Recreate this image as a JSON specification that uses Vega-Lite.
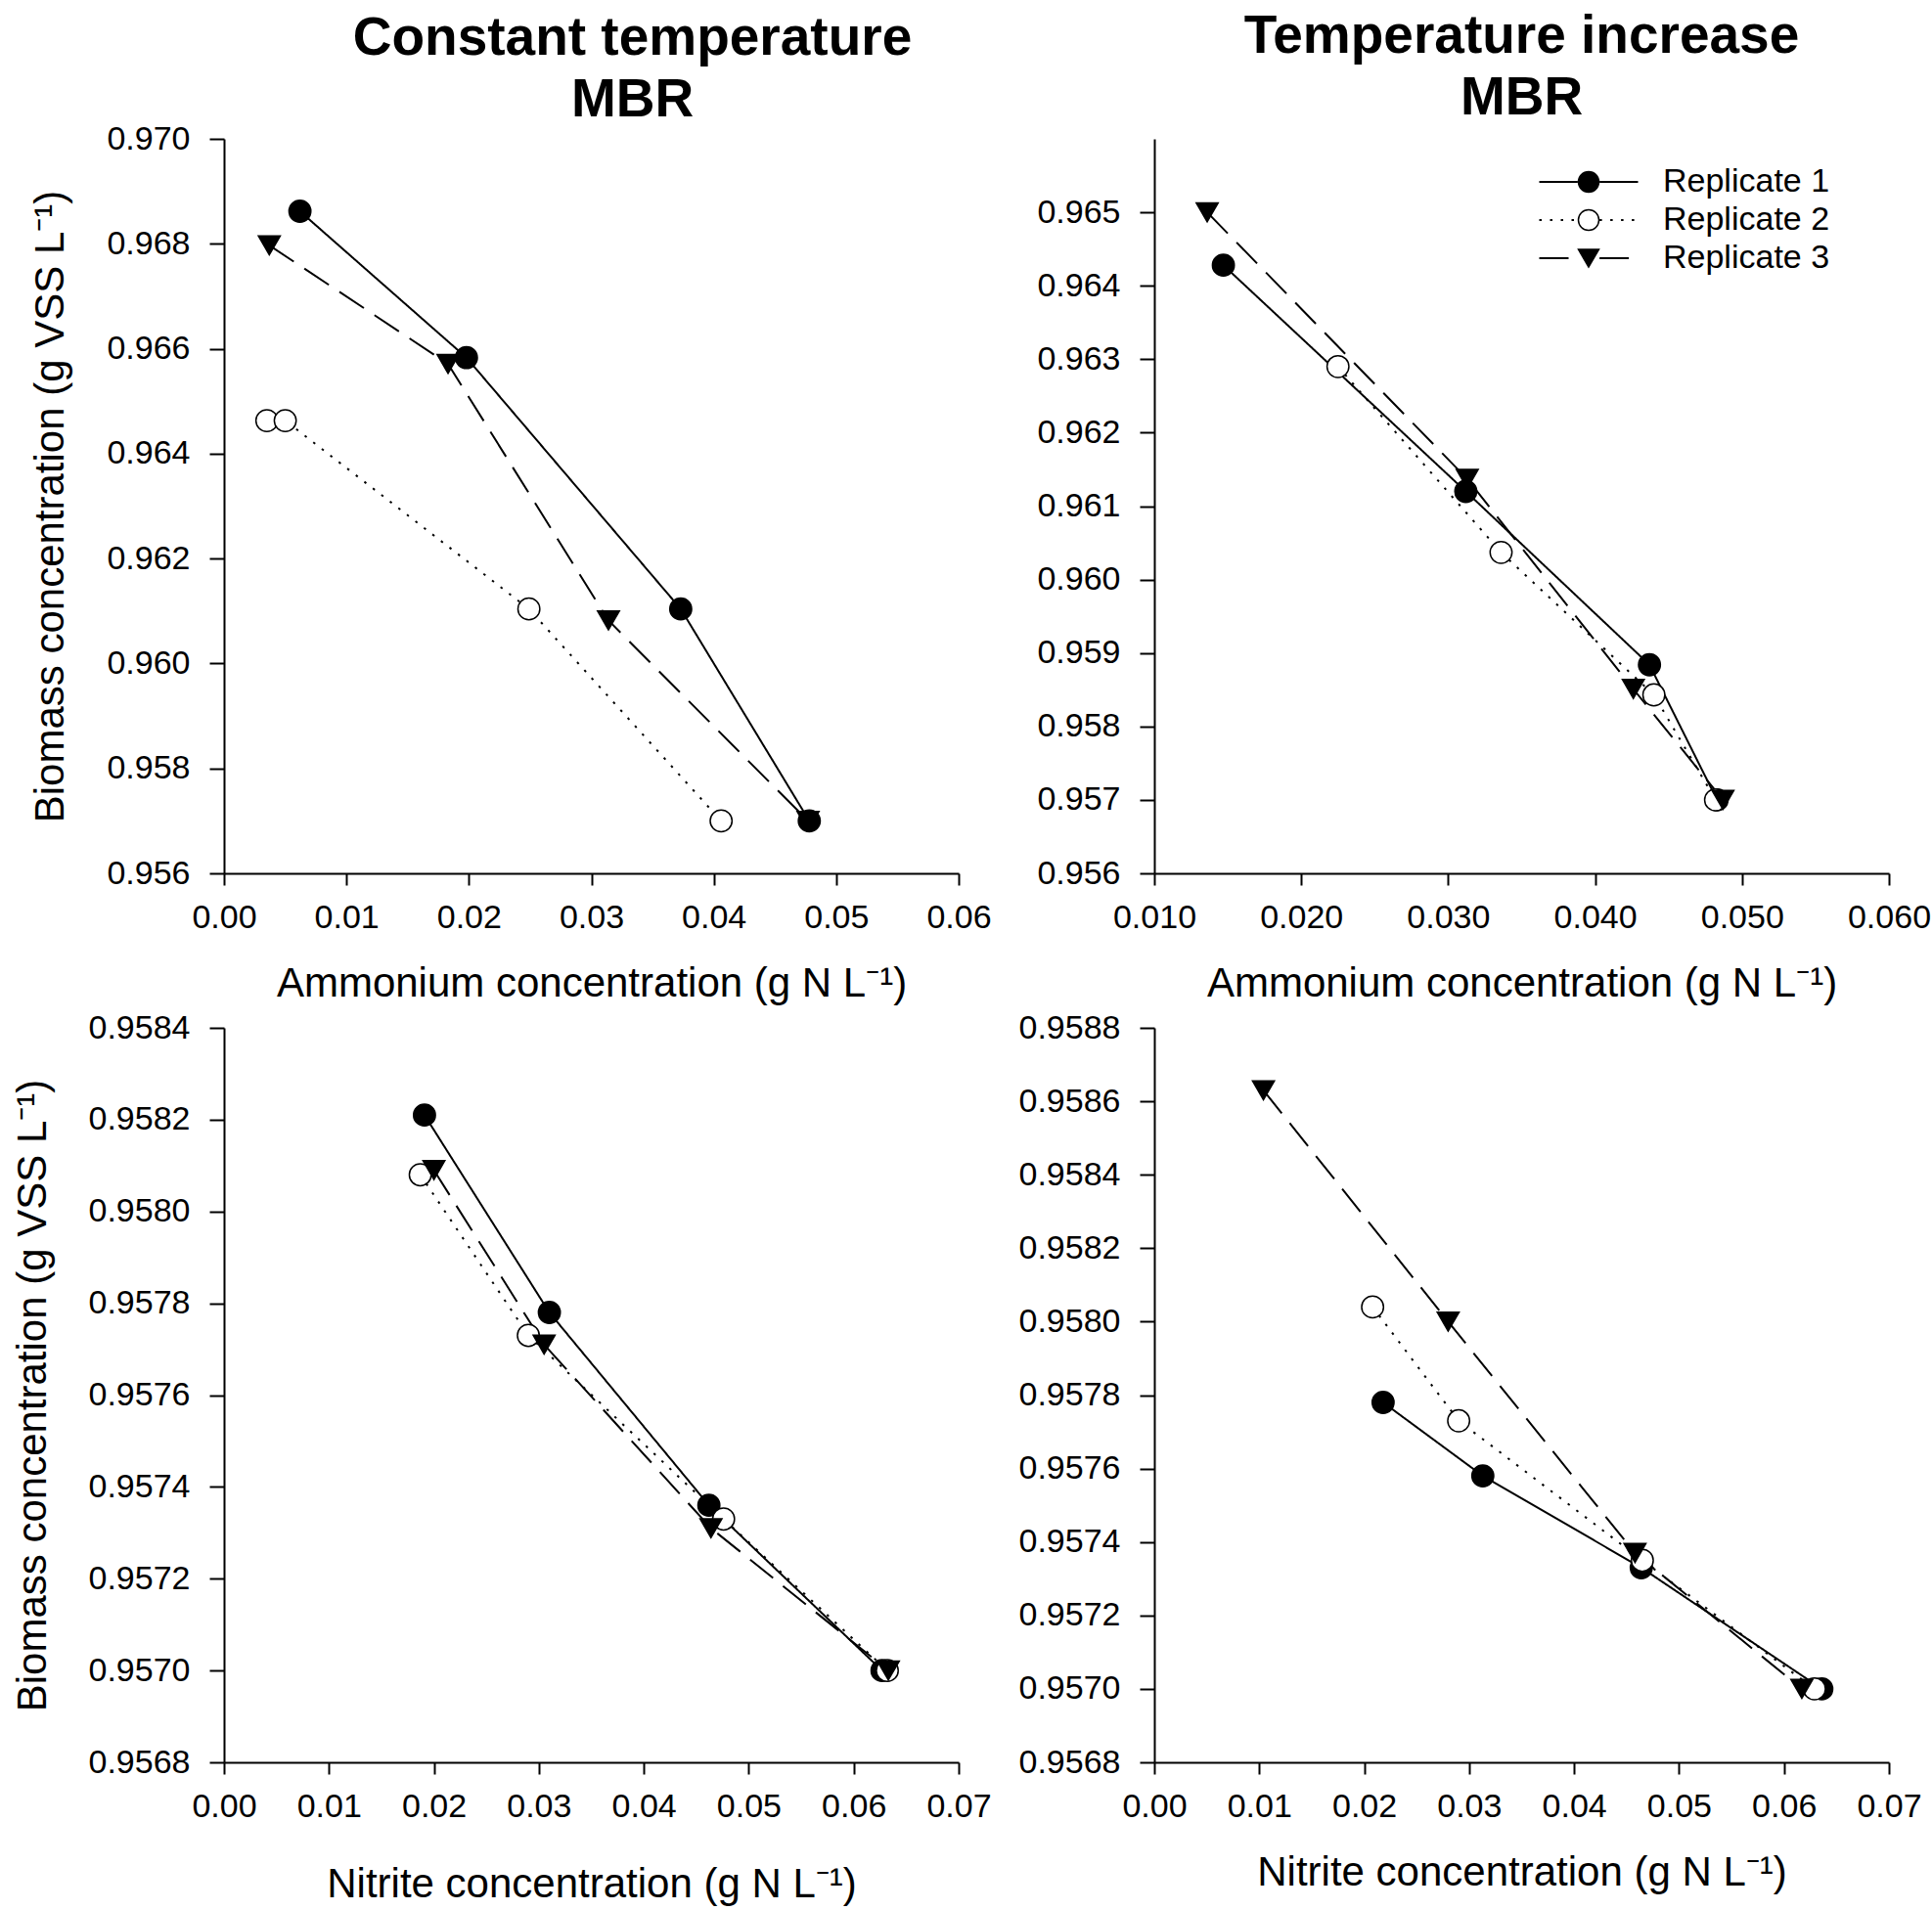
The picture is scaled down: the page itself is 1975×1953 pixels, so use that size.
{
  "$schema": "https://vega.github.io/schema/vega-lite/v6.json",
  "description": "Biomass concentration vs ammonium and nitrite concentration for three replicates, constant temperature and temperature increase MBR.",
  "background": "white",
  "padding": {"left": 12, "top": 10, "right": 5, "bottom": 5},
  "bounds": "flush",
  "columns": 2,
  "spacing": {"row": 158, "column": 200},
  "datasets": {
    "pts": [
      {"panel": "A", "rep": "Replicate 1", "x": 0.0062, "y": 0.96862},
      {"panel": "A", "rep": "Replicate 1", "x": 0.0198, "y": 0.96583},
      {"panel": "A", "rep": "Replicate 1", "x": 0.0373, "y": 0.96104},
      {"panel": "A", "rep": "Replicate 1", "x": 0.0478, "y": 0.957},
      {"panel": "A", "rep": "Replicate 2", "x": 0.0035, "y": 0.96463},
      {"panel": "A", "rep": "Replicate 2", "x": 0.005, "y": 0.96463},
      {"panel": "A", "rep": "Replicate 2", "x": 0.0249, "y": 0.96104},
      {"panel": "A", "rep": "Replicate 2", "x": 0.0406, "y": 0.957},
      {"panel": "A", "rep": "Replicate 3", "x": 0.0037, "y": 0.96797},
      {"panel": "A", "rep": "Replicate 3", "x": 0.0183, "y": 0.96571},
      {"panel": "A", "rep": "Replicate 3", "x": 0.0314, "y": 0.96082},
      {"panel": "A", "rep": "Replicate 3", "x": 0.0477, "y": 0.957},

      {"panel": "B", "rep": "Replicate 1", "x": 0.0147, "y": 0.96428},
      {"panel": "B", "rep": "Replicate 1", "x": 0.0312, "y": 0.9612},
      {"panel": "B", "rep": "Replicate 1", "x": 0.0437, "y": 0.95884},
      {"panel": "B", "rep": "Replicate 1", "x": 0.0483, "y": 0.957},
      {"panel": "B", "rep": "Replicate 2", "x": 0.0225, "y": 0.9629},
      {"panel": "B", "rep": "Replicate 2", "x": 0.0336, "y": 0.96037},
      {"panel": "B", "rep": "Replicate 2", "x": 0.044, "y": 0.95843},
      {"panel": "B", "rep": "Replicate 2", "x": 0.0482, "y": 0.957},
      {"panel": "B", "rep": "Replicate 3", "x": 0.0136, "y": 0.965},
      {"panel": "B", "rep": "Replicate 3", "x": 0.0313, "y": 0.96137},
      {"panel": "B", "rep": "Replicate 3", "x": 0.0426, "y": 0.95851},
      {"panel": "B", "rep": "Replicate 3", "x": 0.0487, "y": 0.957},

      {"panel": "C", "rep": "Replicate 1", "x": 0.0191, "y": 0.95821},
      {"panel": "C", "rep": "Replicate 1", "x": 0.031, "y": 0.95778},
      {"panel": "C", "rep": "Replicate 1", "x": 0.0462, "y": 0.95736},
      {"panel": "C", "rep": "Replicate 1", "x": 0.0627, "y": 0.957},
      {"panel": "C", "rep": "Replicate 2", "x": 0.0187, "y": 0.95808},
      {"panel": "C", "rep": "Replicate 2", "x": 0.029, "y": 0.95773},
      {"panel": "C", "rep": "Replicate 2", "x": 0.0476, "y": 0.95733},
      {"panel": "C", "rep": "Replicate 2", "x": 0.0632, "y": 0.957},
      {"panel": "C", "rep": "Replicate 3", "x": 0.02, "y": 0.95809},
      {"panel": "C", "rep": "Replicate 3", "x": 0.0305, "y": 0.95771},
      {"panel": "C", "rep": "Replicate 3", "x": 0.0464, "y": 0.95731},
      {"panel": "C", "rep": "Replicate 3", "x": 0.0633, "y": 0.957},

      {"panel": "D", "rep": "Replicate 1", "x": 0.0218, "y": 0.95778},
      {"panel": "D", "rep": "Replicate 1", "x": 0.0313, "y": 0.95758},
      {"panel": "D", "rep": "Replicate 1", "x": 0.0464, "y": 0.95733},
      {"panel": "D", "rep": "Replicate 1", "x": 0.0636, "y": 0.957},
      {"panel": "D", "rep": "Replicate 2", "x": 0.0208, "y": 0.95804},
      {"panel": "D", "rep": "Replicate 2", "x": 0.029, "y": 0.95773},
      {"panel": "D", "rep": "Replicate 2", "x": 0.0465, "y": 0.95735},
      {"panel": "D", "rep": "Replicate 2", "x": 0.0629, "y": 0.957},
      {"panel": "D", "rep": "Replicate 3", "x": 0.0104, "y": 0.95863},
      {"panel": "D", "rep": "Replicate 3", "x": 0.028, "y": 0.958},
      {"panel": "D", "rep": "Replicate 3", "x": 0.0458, "y": 0.95737},
      {"panel": "D", "rep": "Replicate 3", "x": 0.0617, "y": 0.957}
    ]
  },
  "concat": [
    {
      "title": {"text": ["Constant temperature", "MBR"], "dx": 42, "offset": -6},
      "width": 751,
      "height": 751,
      "data": {"name": "pts"},
      "transform": [{"filter": "datum.panel === 'A'"}],
      "encoding": {
        "x": {
          "field": "x", "type": "quantitative",
          "scale": {"domain": [0, 0.06], "nice": false, "zero": false},
          "axis": {"values": [0, 0.01, 0.02, 0.03, 0.04, 0.05, 0.06], "format": ".2f", "title": "Ammonium concentration (g N L⁻¹)"}
        },
        "y": {
          "field": "y", "type": "quantitative",
          "scale": {"domain": [0.956, 0.97], "nice": false, "zero": false},
          "axis": {"values": [0.956, 0.958, 0.96, 0.962, 0.964, 0.966, 0.968, 0.97], "format": ".3f", "title": "Biomass concentration (g VSS L⁻¹)"}
        }
      },
      "layer": [
        {
          "mark": {"type": "line", "stroke": "black", "strokeWidth": 2},
          "encoding": {
            "strokeDash": {"field": "rep", "type": "nominal", "scale": {"range": [[1, 0], [2.5, 8.5], [30, 13]]}, "legend": null}
          }
        },
        {
          "mark": {"type": "point", "filled": true, "size": 500, "strokeWidth": 1.5, "opacity": 1},
          "encoding": {
            "shape": {"field": "rep", "type": "nominal", "scale": {"domain": ["Replicate 1", "Replicate 2", "Replicate 3"], "range": ["circle", "circle", "triangle-down"]}, "legend": null},
            "fill": {"field": "rep", "type": "nominal", "scale": {"domain": ["Replicate 1", "Replicate 2", "Replicate 3"], "range": ["black", "white", "black"]}, "legend": null},
            "stroke": {"field": "rep", "type": "nominal", "scale": {"domain": ["Replicate 1", "Replicate 2", "Replicate 3"], "range": ["black", "black", "black"]}, "legend": null}
          }
        }
      ]
    },
    {
      "title": {"text": ["Temperature increase", "MBR"], "offset": 13},
      "width": 751,
      "height": 751,
      "data": {"name": "pts"},
      "transform": [{"filter": "datum.panel === 'B'"}],
      "encoding": {
        "x": {
          "field": "x", "type": "quantitative",
          "scale": {"domain": [0.01, 0.06], "nice": false, "zero": false},
          "axis": {"values": [0.01, 0.02, 0.03, 0.04, 0.05, 0.06], "format": ".3f", "title": "Ammonium concentration (g N L⁻¹)"}
        },
        "y": {
          "field": "y", "type": "quantitative",
          "scale": {"domain": [0.956, 0.966], "nice": false, "zero": false},
          "axis": {"values": [0.956, 0.957, 0.958, 0.959, 0.96, 0.961, 0.962, 0.963, 0.964, 0.965], "format": ".3f", "title": null}
        }
      },
      "layer": [
        {
          "mark": {"type": "line", "stroke": "black", "strokeWidth": 2},
          "encoding": {
            "strokeDash": {
              "field": "rep", "type": "nominal",
              "scale": {"range": [[1, 0], [2.5, 8.5], [30, 13]]},
              "legend": {
                "title": null, "orient": "none", "legendX": 392.5, "legendY": 25.5, "padding": 0,
                "symbolType": "M-1,0H-0.22M0.22,0H1", "symbolSize": 10201, "symbolStrokeWidth": 2,
                "symbolStrokeColor": "black", "symbolFillColor": "transparent",
                "clipHeight": 37, "rowPadding": 2, "labelOffset": 24.5, "labelLimit": 400,
                "labelFontSize": 34, "labelFont": "Liberation Sans", "labelColor": "black"
              }
            }
          }
        },
        {
          "mark": {"type": "point", "filled": true, "size": 500, "strokeWidth": 1.5, "opacity": 1},
          "encoding": {
            "shape": {
              "field": "rep", "type": "nominal",
              "scale": {"domain": ["Replicate 1", "Replicate 2", "Replicate 3"], "range": ["circle", "circle", "triangle-down"]},
              "legend": {
                "title": null, "orient": "none", "legendX": 427, "legendY": 25.5, "padding": 0,
                "symbolSize": 441, "symbolStrokeWidth": 1.5, "symbolStrokeColor": "black",
                "clipHeight": 37, "rowPadding": 2, "labelExpr": "''", "labelFontSize": 34
              }
            },
            "fill": {
              "field": "rep", "type": "nominal",
              "scale": {"domain": ["Replicate 1", "Replicate 2", "Replicate 3"], "range": ["black", "white", "black"]},
              "legend": {
                "title": null, "orient": "none", "legendX": 427, "legendY": 25.5, "padding": 0,
                "symbolSize": 441, "symbolStrokeWidth": 1.5, "symbolStrokeColor": "black",
                "clipHeight": 37, "rowPadding": 2, "labelExpr": "''", "labelFontSize": 34
              }
            },
            "stroke": {
              "field": "rep", "type": "nominal",
              "scale": {"domain": ["Replicate 1", "Replicate 2", "Replicate 3"], "range": ["black", "black", "black"]},
              "legend": {
                "title": null, "orient": "none", "legendX": 427, "legendY": 25.5, "padding": 0,
                "symbolSize": 441, "symbolStrokeWidth": 1.5,
                "clipHeight": 37, "rowPadding": 2, "labelExpr": "''", "labelFontSize": 34
              }
            }
          }
        }
      ]
    },
    {
      "width": 751,
      "height": 751,
      "data": {"name": "pts"},
      "transform": [{"filter": "datum.panel === 'C'"}],
      "encoding": {
        "x": {
          "field": "x", "type": "quantitative",
          "scale": {"domain": [0, 0.07], "nice": false, "zero": false},
          "axis": {"values": [0, 0.01, 0.02, 0.03, 0.04, 0.05, 0.06, 0.07], "format": ".2f", "title": "Nitrite concentration (g N L⁻¹)", "titlePadding": 42}
        },
        "y": {
          "field": "y", "type": "quantitative",
          "scale": {"domain": [0.9568, 0.9584], "nice": false, "zero": false},
          "axis": {"values": [0.9568, 0.957, 0.9572, 0.9574, 0.9576, 0.9578, 0.958, 0.9582, 0.9584], "format": ".4f", "title": "Biomass concentration (g VSS L⁻¹)"}
        }
      },
      "layer": [
        {
          "mark": {"type": "line", "stroke": "black", "strokeWidth": 2},
          "encoding": {
            "strokeDash": {"field": "rep", "type": "nominal", "scale": {"range": [[1, 0], [2.5, 8.5], [30, 13]]}, "legend": null}
          }
        },
        {
          "mark": {"type": "point", "filled": true, "size": 500, "strokeWidth": 1.5, "opacity": 1},
          "encoding": {
            "shape": {"field": "rep", "type": "nominal", "scale": {"domain": ["Replicate 1", "Replicate 2", "Replicate 3"], "range": ["circle", "circle", "triangle-down"]}, "legend": null},
            "fill": {"field": "rep", "type": "nominal", "scale": {"domain": ["Replicate 1", "Replicate 2", "Replicate 3"], "range": ["black", "white", "black"]}, "legend": null},
            "stroke": {"field": "rep", "type": "nominal", "scale": {"domain": ["Replicate 1", "Replicate 2", "Replicate 3"], "range": ["black", "black", "black"]}, "legend": null}
          }
        }
      ]
    },
    {
      "width": 751,
      "height": 751,
      "data": {"name": "pts"},
      "transform": [{"filter": "datum.panel === 'D'"}],
      "encoding": {
        "x": {
          "field": "x", "type": "quantitative",
          "scale": {"domain": [0, 0.07], "nice": false, "zero": false},
          "axis": {"values": [0, 0.01, 0.02, 0.03, 0.04, 0.05, 0.06, 0.07], "format": ".2f", "title": "Nitrite concentration (g N L⁻¹)"}
        },
        "y": {
          "field": "y", "type": "quantitative",
          "scale": {"domain": [0.9568, 0.9588], "nice": false, "zero": false},
          "axis": {"values": [0.9568, 0.957, 0.9572, 0.9574, 0.9576, 0.9578, 0.958, 0.9582, 0.9584, 0.9586, 0.9588], "format": ".4f", "title": null}
        }
      },
      "layer": [
        {
          "mark": {"type": "line", "stroke": "black", "strokeWidth": 2},
          "encoding": {
            "strokeDash": {"field": "rep", "type": "nominal", "scale": {"range": [[1, 0], [2.5, 8.5], [30, 13]]}, "legend": null}
          }
        },
        {
          "mark": {"type": "point", "filled": true, "size": 500, "strokeWidth": 1.5, "opacity": 1},
          "encoding": {
            "shape": {"field": "rep", "type": "nominal", "scale": {"domain": ["Replicate 1", "Replicate 2", "Replicate 3"], "range": ["circle", "circle", "triangle-down"]}, "legend": null},
            "fill": {"field": "rep", "type": "nominal", "scale": {"domain": ["Replicate 1", "Replicate 2", "Replicate 3"], "range": ["black", "white", "black"]}, "legend": null},
            "stroke": {"field": "rep", "type": "nominal", "scale": {"domain": ["Replicate 1", "Replicate 2", "Replicate 3"], "range": ["black", "black", "black"]}, "legend": null}
          }
        }
      ]
    }
  ],
  "resolve": {
    "scale": {"x": "independent", "y": "independent", "shape": "independent", "fill": "independent", "stroke": "independent", "strokeDash": "independent"},
    "legend": {"shape": "independent", "fill": "independent", "stroke": "independent", "strokeDash": "independent"}
  },
  "config": {
    "font": "Liberation Sans",
    "view": {"stroke": null},
    "title": {"font": "Liberation Sans", "fontSize": 55, "fontWeight": "bold", "color": "black", "lineHeight": 63, "anchor": "middle"},
    "axis": {
      "grid": false,
      "domainColor": "black", "domainWidth": 2,
      "tickColor": "black", "tickWidth": 2, "tickSize": 12,
      "labelFont": "Liberation Sans", "labelFontSize": 34, "labelColor": "black",
      "labelOverlap": false, "labelFlush": false,
      "titleFont": "Liberation Sans", "titleFontSize": 42, "titleFontWeight": "normal", "titleColor": "black"
    },
    "axisX": {"labelPadding": 16, "titlePadding": 30},
    "axisY": {"tickSize": 15, "labelPadding": 20, "titlePadding": 35}
  }
}
